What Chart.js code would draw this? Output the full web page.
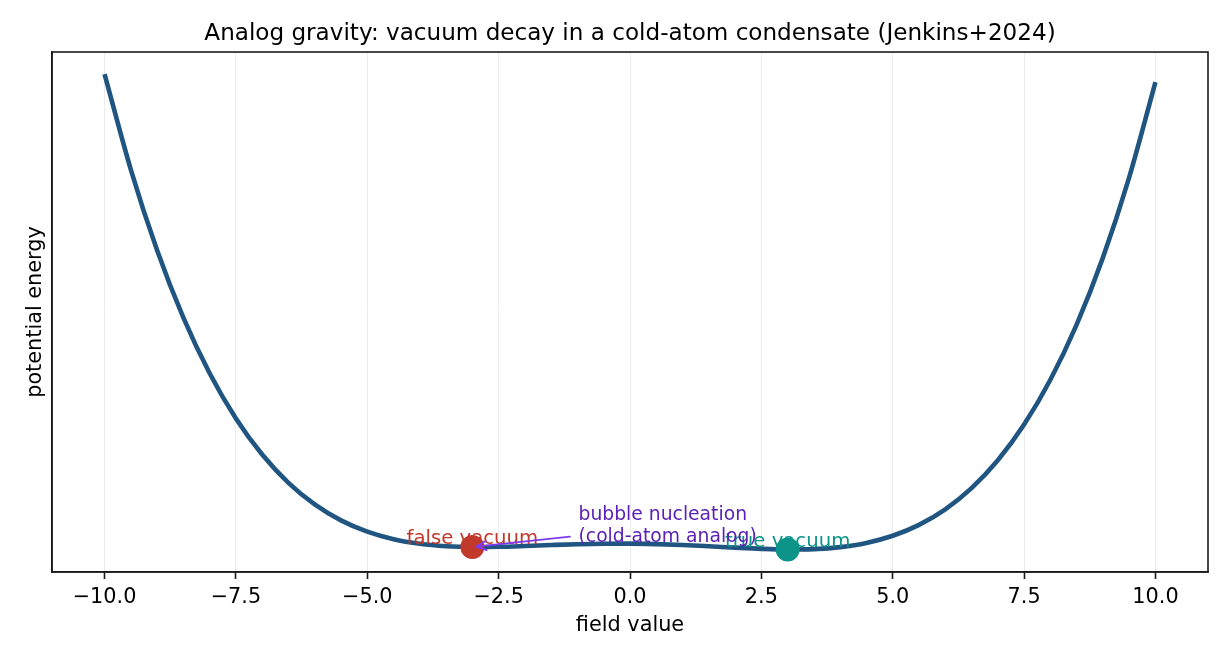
<!DOCTYPE html>
<html>
<head>
<meta charset="utf-8">
<style>
  html, body { margin: 0; padding: 0; background: #ffffff; }
  canvas { display: block; }
</style>
<script src="https://cdn.jsdelivr.net/npm/chart.js@4.4.1/dist/chart.umd.min.js"></script>
</head>
<body>
<canvas id="c" width="1230" height="660"></canvas>
<script>
// ---- data ----
const fieldValues = [-10, -9.5, -9, -8.5, -8, -7.5, -7, -6.5, -6, -5.5, -5, -4.5, -4, -3.5, -3, -2.5, -2, -1.5, -1, -0.5,
                     0, 0.5, 1, 1.5, 2, 2.5, 3, 3.5, 4, 4.5, 5, 5.5, 6, 6.5, 7, 7.5, 8, 8.5, 9, 9.5, 10];
const potential = [2088.3, 1667.5, 1312.2, 1015.4, 770.7, 571.6, 412.6, 288.1, 193.1, 122.8, 73.0, 39.7, 19.5, 8.9, 5.4, 6.4, 9.9, 14.1, 17.8, 20.0,
                   20.25, 18.2, 14.2, 8.7, 2.7, -2.6, -5.4, -3.7, 5.1, 23.5, 55.0, 103.0, 171.5, 264.7, 387.4, 544.6, 741.9, 984.8, 1279.8, 1633.3, 2052.3];
const vacuaX = [-3, 3];
const vacuaY = [5.4, -5.4];
const vacuaLabels = ['false vacuum', 'true vacuum'];
const bubbleLines = ['bubble nucleation', '(cold-atom analog)'];
const bubbleAnchor = { x: -0.98, y: 29 };
const xTicks = [-10, -7.5, -5, -2.5, 0, 2.5, 5, 7.5, 10];

// ---- styles ----
const FONT = '"DejaVu Sans", "Liberation Sans", sans-serif';
const CURVE_COLOR = '#1f5580';
const VACUA_COLORS = ['#c0392b', '#0d9488'];
const BUBBLE_TEXT = '#5b21b6';
const ARROW_COLOR = '#7c3aed';
const AXIS_COLOR = '#1a1a1a';

const fmtTick = v => (v < 0 ? '\u2212' : '') + Math.abs(v).toFixed(1);

const annotPlugin = {
  id: 'annot',
  beforeDatasetDraw(chart, args) {
    if (args.index !== 1) return;
    const { ctx, scales: { x, y } } = chart;
    ctx.save();
    ctx.font = '19.7px ' + FONT;
    ctx.textAlign = 'center';
    ctx.textBaseline = 'alphabetic';
    vacuaLabels.forEach((t, i) => {
      ctx.fillStyle = VACUA_COLORS[i];
      ctx.fillText(t, x.getPixelForValue(vacuaX[i]), y.getPixelForValue(vacuaY[i]) - 2.6);
    });
    ctx.restore();
  },
  afterDatasetsDraw(chart) {
    const { ctx, scales: { x, y } } = chart;
    ctx.save();
    const tx = x.getPixelForValue(bubbleAnchor.x);
    const ty2 = y.getPixelForValue(bubbleAnchor.y);
    const lh = 21.8;
    // arrow
    const px = x.getPixelForValue(vacuaX[0]);
    const py = y.getPixelForValue(vacuaY[0]);
    const sx = tx - 8.5, sy = ty2 - 5;
    const dx = px - sx, dy = py - sy;
    const len = Math.hypot(dx, dy);
    const ux = dx / len, uy = dy / len;
    const ex = px - ux * 4, ey = py - uy * 4;
    ctx.strokeStyle = ARROW_COLOR;
    ctx.lineWidth = 1.8;
    ctx.lineCap = 'round';
    ctx.lineJoin = 'round';
    ctx.beginPath();
    ctx.moveTo(sx, sy);
    ctx.lineTo(ex, ey);
    ctx.stroke();
    const hl = 10, hw = 4.5;
    const nx = -uy, ny = ux;
    ctx.beginPath();
    ctx.moveTo(ex - ux * hl + nx * hw, ey - uy * hl + ny * hw);
    ctx.lineTo(ex, ey);
    ctx.lineTo(ex - ux * hl - nx * hw, ey - uy * hl - ny * hw);
    ctx.stroke();
    // text
    ctx.font = '18.75px ' + FONT;
    ctx.fillStyle = BUBBLE_TEXT;
    ctx.textAlign = 'left';
    ctx.textBaseline = 'alphabetic';
    ctx.fillText(bubbleLines[0], tx, ty2 - lh);
    ctx.fillText(bubbleLines[1], tx, ty2);
    ctx.restore();
  },
  afterDraw(chart) {
    const { ctx, chartArea: a } = chart;
    ctx.save();
    ctx.strokeStyle = AXIS_COLOR;
    ctx.lineWidth = 1.6;
    ctx.strokeRect(a.left, a.top, a.right - a.left, a.bottom - a.top);
    ctx.restore();
  }
};

new Chart(document.getElementById('c'), {
  type: 'line',
  data: {
    datasets: [
      {
        label: 'potential',
        data: fieldValues.map((v, i) => ({ x: v, y: potential[i] })),
        borderColor: CURVE_COLOR,
        borderWidth: 4.6,
        borderCapStyle: 'butt',
        pointRadius: 0,
        fill: false,
        cubicInterpolationMode: 'monotone',
        order: 2
      },
      {
        label: 'vacua',
        data: vacuaX.map((v, i) => ({ x: v, y: vacuaY[i] })),
        showLine: false,
        pointRadius: 12,
        pointHoverRadius: 12,
        pointBorderWidth: 0,
        pointBackgroundColor: VACUA_COLORS,
        pointBorderColor: VACUA_COLORS,
        order: 1
      }
    ]
  },
  options: {
    responsive: false,
    animation: false,
    devicePixelRatio: 1,
    layout: { padding: { left: 0, right: 22, top: 0, bottom: 0 } },
    plugins: {
      legend: { display: false },
      tooltip: { enabled: false },
      title: {
        display: true,
        fullSize: false,
        text: 'Analog gravity: vacuum decay in a cold-atom condensate (Jenkins+2024)',
        color: '#000',
        font: { family: FONT, size: 23.1, weight: 'normal', lineHeight: 1.2 },
        padding: { top: 20, bottom: 4.3 }
      }
    },
    scales: {
      x: {
        type: 'linear',
        min: -11,
        max: 11,
        afterBuildTicks: s => { s.ticks = xTicks.map(v => ({ value: v })); },
        afterFit: s => { s.height = 88; },
        ticks: {
          callback: fmtTick,
          color: '#000',
          font: { family: FONT, size: 20.8, lineHeight: 1.2 },
          padding: 6,
          maxRotation: 0,
          autoSkip: false
        },
        grid: {
          color: '#ececec',
          lineWidth: 1,
          drawTicks: true,
          tickLength: 7,
          tickWidth: 1.6,
          tickColor: AXIS_COLOR
        },
        border: { display: true, color: AXIS_COLOR, width: 1.6 },
        title: {
          display: true,
          text: 'field value',
          color: '#000',
          font: { family: FONT, size: 20.8, lineHeight: 1.2 },
          padding: { top: 0, bottom: 21.7 }
        }
      },
      y: {
        type: 'linear',
        min: -104.5,
        max: 2185.2,
        afterFit: s => { s.width = 52; },
        ticks: { display: false },
        grid: { display: false, drawTicks: false },
        border: { display: true, color: AXIS_COLOR, width: 1.6 },
        title: {
          display: true,
          text: 'potential energy',
          color: '#000',
          font: { family: FONT, size: 20.8, lineHeight: 1.2 },
          padding: { top: 23.6, bottom: 0 }
        }
      }
    }
  },
  plugins: [annotPlugin]
});
</script>
</body>
</html>
